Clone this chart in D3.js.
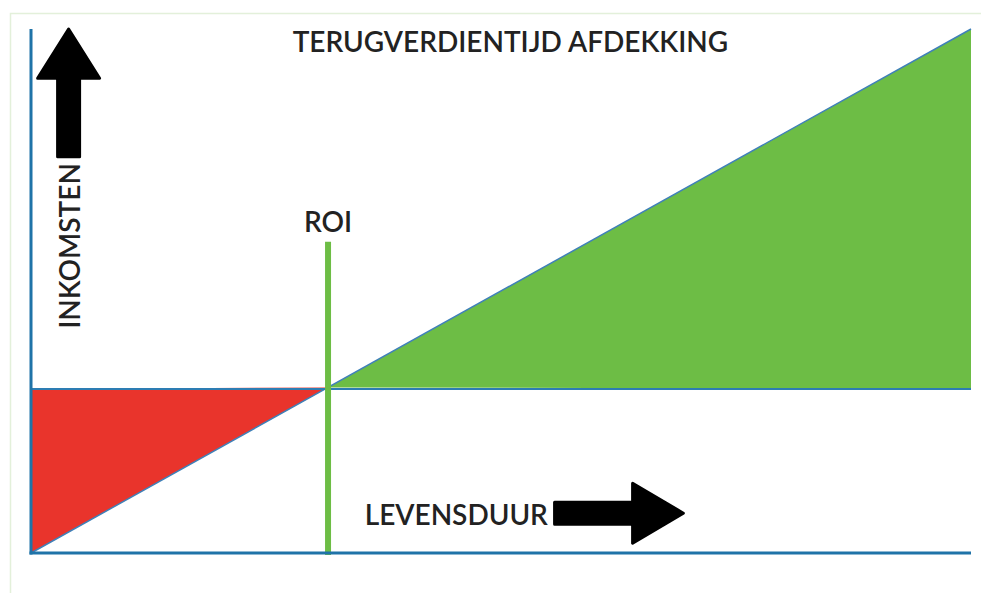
<!DOCTYPE html>
<html>
<head>
<meta charset="utf-8">
<script src="https://cdn.jsdelivr.net/npm/d3@7"></script>
<style>
  body { margin: 0; background: #fff; }
  text { font-family: Lato, "Open Sans", sans-serif; fill: #222; }
</style>
</head>
<body>
<script>
// payback diagram: income grows linearly, investment is a flat level
var incomeLine = [{x: 0, y: 0}, {x: 100, y: 100}];
var investment = 31.3;
var roi = 31.6;
var roiTop = 59.4;

// labels and where they sit, in data units
var titleText = "TERUGVERDIENTIJD AFDEKKING";
var yLabel = "INKOMSTEN";
var xLabel = "LEVENSDUUR";
var roiLabel = "ROI";

var upArrow = {x: 4.0, from: 75.6, head: 90.6, to: 100};
var rightArrow = {y: 7.6, from: 55.7, head: 64.0, to: 69.4};

var W = 981, H = 593;
var margin = {top: 29, right: 10, bottom: 40, left: 31};
var fontSize = "28px";

var svg = d3.select("body").append("svg")
    .attr("width", W)
    .attr("height", H);

// light frame round the picture
svg.append("path")
    .attr("d", "M10.5," + H + "V13.5H" + W)
    .style("fill", "none")
    .style("stroke", "#e3f0da")
    .style("stroke-width", 1.5);

var x = d3.scaleLinear().domain([0, 100])
    .range([margin.left, W - margin.right]);
var y = d3.scaleLinear().domain([0, 100])
    .range([H - margin.bottom, margin.top]);

var xRoi = x(roi), yInv = y(investment);
var slope = d3.scaleLinear()
    .domain([incomeLine[0].x, incomeLine[1].x])
    .range([incomeLine[0].y, incomeLine[1].y]);

// loss area before ROI
svg.append("path")
    .attr("d", d3.line()([
        [x(0), y(investment)],
        [x(roi), y(slope(roi))],
        [x(0), y(slope(0))]
    ]) + "Z")
    .style("fill", "#e9342c");

// profit area after ROI
svg.append("path")
    .attr("d", d3.line()([
        [x(roi), y(slope(roi))],
        [x(100), y(slope(100))],
        [x(100), y(investment)]
    ]) + "Z")
    .style("fill", "#6dbd45");

// income line
svg.append("path")
    .datum(incomeLine)
    .attr("d", d3.line().x(function(d){ return x(d.x); })
        .y(function(d){ return y(d.y); }))
    .style("fill", "none")
    .style("stroke", "#3f80b8")
    .style("stroke-width", 1.5);

// investment level
svg.append("line")
    .attr("x1", x(0)).attr("x2", x(100))
    .attr("y1", yInv).attr("y2", yInv)
    .style("stroke", "#2d7db3")
    .style("stroke-width", 2);

// ROI marker
svg.append("line")
    .attr("x1", xRoi).attr("x2", xRoi)
    .attr("y1", y(roiTop)).attr("y2", y(0) + 2)
    .style("stroke", "#6dbd45")
    .style("stroke-width", 6);

svg.append("text")
    .text(roiLabel)
    .attr("x", xRoi)
    .attr("y", y(roiTop) - 10)
    .attr("text-anchor", "middle")
    .style("font-size", fontSize)
    .style("font-weight", 600);

// axes, plain lines without ticks
svg.append("line")
    .attr("x1", x(0)).attr("x2", x(0))
    .attr("y1", y(100)).attr("y2", y(0) + 1.5)
    .style("stroke", "#1f73a8")
    .style("stroke-width", 3);
svg.append("line")
    .attr("x1", x(0) - 1.5).attr("x2", x(100))
    .attr("y1", y(0)).attr("y2", y(0))
    .style("stroke", "#1f73a8")
    .style("stroke-width", 3);

// title
svg.append("text")
    .text(titleText)
    .attr("x", x(51.0))
    .attr("y", y(95.7))
    .attr("text-anchor", "middle")
    .style("font-size", fontSize)
    .style("font-weight", 600);

// up arrow (income)
var ax = x(upArrow.x), sw = 11, hw = 31;
svg.append("path")
    .attr("d", "M" + (ax - sw) + "," + y(upArrow.from) +
        "V" + y(upArrow.head) + "H" + (ax - hw) +
        "L" + ax + "," + y(upArrow.to) +
        "L" + (ax + hw) + "," + y(upArrow.head) +
        "H" + (ax + sw) + "V" + y(upArrow.from) + "Z")
    .style("fill", "#000")
    .style("stroke", "#000")
    .style("stroke-width", 3)
    .style("stroke-linejoin", "round");

svg.append("text")
    .text(yLabel)
    .attr("transform", "translate(" + (ax + 11) + "," + y(58.6) + ") rotate(-90)")
    .attr("text-anchor", "middle")
    .style("font-size", fontSize)
    .style("font-weight", 600);

// right arrow (lifetime)
var ay = y(rightArrow.y), sh = 11, hh = 30;
svg.append("path")
    .attr("d", "M" + x(rightArrow.from) + "," + (ay - sh) +
        "H" + x(rightArrow.head) + "V" + (ay - hh) +
        "L" + x(rightArrow.to) + "," + ay +
        "L" + x(rightArrow.head) + "," + (ay + hh) +
        "V" + (ay + sh) + "H" + x(rightArrow.from) + "Z")
    .style("fill", "#000")
    .style("stroke", "#000")
    .style("stroke-width", 3)
    .style("stroke-linejoin", "round");

svg.append("text")
    .text(xLabel)
    .attr("x", x(35.5))
    .attr("y", y(5.3))
    .style("font-size", fontSize)
    .style("font-weight", 600);
</script>
</body>
</html>
